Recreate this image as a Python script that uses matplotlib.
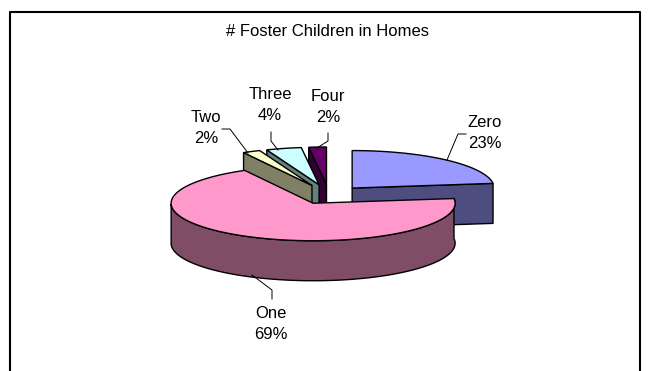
import numpy as np
import matplotlib
matplotlib.use("Agg")
import matplotlib.pyplot as plt

names = ["Zero", "One", "Two", "Three", "Four"]
shares = [23, 69, 2, 4, 2]
top_colors = ["#9999FF", "#FF99CC", "#FFFFCC", "#CCFFFF", "#660066"]
side_colors = ["#4D4D80", "#804D66", "#808066", "#668080", "#330033"]

# label centre, then the leader line
label_pos = [(485, 133), (271, 324), (206, 128), (270, 105), (328, 107)]
leaders = [
    [(447, 160), (458, 134), (466, 134)],
    [(252, 275), (272, 290), (272, 299)],
    [(248, 153), (230, 129), (222, 129)],
    [(278, 150), (271, 141), (271, 132)],
    [(317, 148), (328, 141), (328, 133)],
]

cx, cy = 329, 195
rx, ry = 142, 37.5
depth = 40
explode = [35, 35, 40, 40, 40]
squash = ry / rx

plt.rcParams['font.family'] = ['Liberation Sans', 'DejaVu Sans']
fig = plt.figure(figsize=(6.52, 3.71), dpi=100)
ax = fig.add_axes([0, 0, 1, 1])
ax.set_xlim(0, 652)
ax.set_ylim(371, 0)
ax.axis('off')

# frame has no bottom edge, runs off the image
ax.plot([10, 10, 640, 640], [371, 12, 12, 371], color='black', lw=1.5)

ax.text(328, 32, "# Foster Children in Homes", ha='center', va='center', fontsize=12)

edges = np.cumsum([0] + shares) / 100.0 * 2 * np.pi


def point(x0, y0, ang):
    return x0 + rx * np.sin(ang), y0 - ry * np.cos(ang)


def draw_slice(i):
    a0, a1 = edges[i], edges[i + 1]
    mid = (a0 + a1) / 2
    x0 = cx + explode[i] * np.sin(mid)
    y0 = cy - explode[i] * squash * np.cos(mid)
    t = np.linspace(a0, a1, 200)
    xs, ys = point(x0, y0, t)

    # cut face on the clockwise-start side, seen only for the small back slices
    if i >= 2:
        x1, y1 = point(x0, y0, a0)
        ax.fill([x0, x1, x1, x0], [y0, y1, y1 + depth, y0 + depth],
                fc=side_colors[i], ec='black', lw=1)
    # cut face at the end of Zero
    if i == 0:
        x1, y1 = point(x0, y0, a1)
        ax.fill([x0, x1, x1, x0], [y0, y1, y1 + depth, y0 + depth],
                fc=side_colors[i], ec='black', lw=1)
    # outer wall, only the part that faces the viewer
    front = (t > np.pi / 2 - 0.13) & (t < 3 * np.pi / 2)
    if i == 1:
        fx, fy = xs[front], ys[front]
        ax.fill(np.r_[fx, fx[::-1]], np.r_[fy, fy[::-1] + depth],
                fc=side_colors[i], ec='black', lw=1)
    ax.fill(np.r_[x0, xs], np.r_[y0, ys], fc=top_colors[i], ec='black', lw=1)


for i in [4, 3, 2, 0, 1]:
    draw_slice(i)

for i in range(len(names)):
    pts = leaders[i]
    ax.plot([p[0] for p in pts], [p[1] for p in pts], color='black', lw=0.7)
    ax.text(label_pos[i][0], label_pos[i][1], names[i] + "\n" + str(shares[i]) + "%",
            ha='center', va='center', fontsize=12, linespacing=1.47)

fig.savefig("out.png", dpi=100)
